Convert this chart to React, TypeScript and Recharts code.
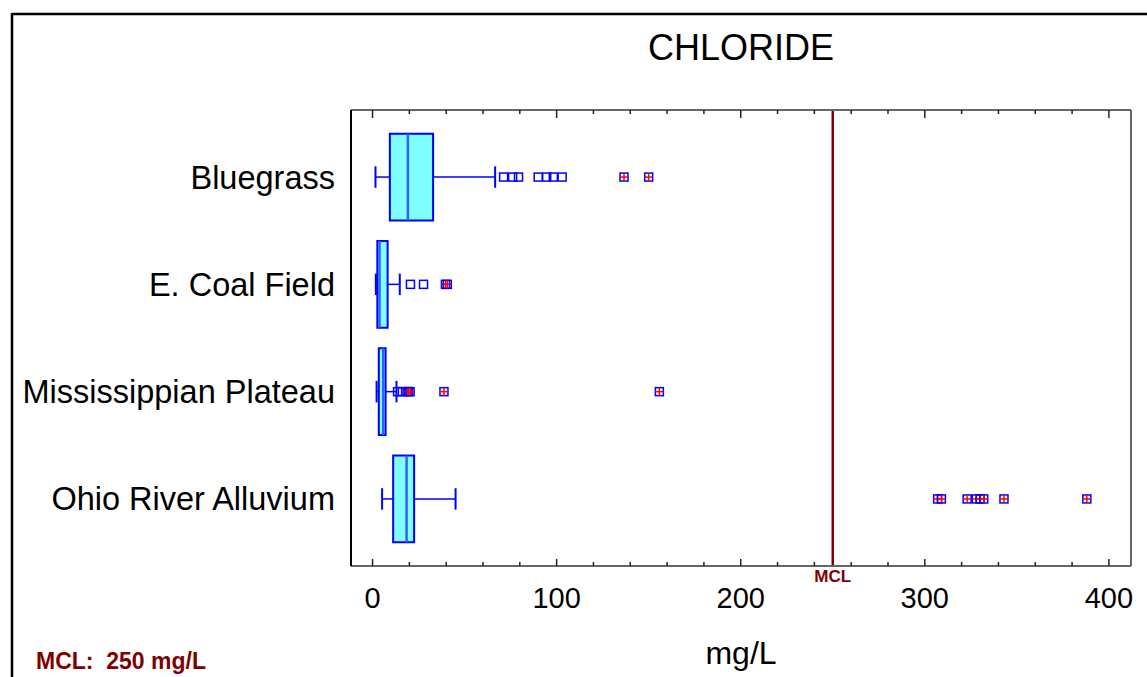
import React from 'react';
import { ComposedChart, XAxis, YAxis, Scatter, ReferenceArea, ReferenceLine } from 'recharts';

// chloride (mg/L) by physiographic region
const regions = ['Bluegrass', 'E. Coal Field', 'Mississippian Plateau', 'Ohio River Alluvium'];
const lowWhisker = [1.6, 1.8, 2.2, 5.2];
const q1 = [9.4, 2.6, 3.4, 11.2];
const median = [19.2, 3.8, 5.8, 18.5];
const q3 = [32.9, 8.2, 7.1, 22.6];
const highWhisker = [66.6, 14.8, 13.0, 45.1];

const mildOutliers = [
  [71.2, 76.1, 79.3, 90.0, 94.6, 98.2, 103.0],
  [20.6, 27.7],
  [13.6, 16.2],
  [],
];
const farOutliers = [
  [136.6, 150.0],
  [39.6, 40.6],
  [18.8, 19.6, 20.4, 38.8, 155.8],
  [307, 309, 323, 328, 330, 332, 343, 388],
];

const xTicks = [0, 20, 40, 60, 80, 100, 120, 140, 160, 180, 200, 220, 240, 260, 280, 300, 320, 340, 360, 380, 400];
const MCL = 250;

const BLUE = '#0000ff';
const MAROON = '#800000';
const BOX_HALF = 0.404;
const CAP_HALF = 0.1;

const mildData = mildOutliers.flatMap((vals, i) => vals.map((v) => ({ x: v, y: i + 1 })));
const farData = farOutliers.flatMap((vals, i) => vals.map((v) => ({ x: v, y: i + 1 })));

const Square = (props: any) => {
  const { cx, cy } = props;
  return <rect x={cx - 4} y={cy - 4} width={8} height={8} fill="none" stroke={BLUE} strokeWidth={1.5} />;
};

const CrossSquare = (props: any) => {
  const { cx, cy } = props;
  return (
    <g>
      <rect x={cx - 4} y={cy - 4} width={8} height={8} fill="none" stroke={BLUE} strokeWidth={1.5} />
      <line x1={cx - 4} x2={cx + 4} y1={cy} y2={cy} stroke="#ff0000" strokeWidth={1.5} />
      <line x1={cx} x2={cx} y1={cy - 4} y2={cy + 4} stroke="#ff0000" strokeWidth={1.5} />
    </g>
  );
};

const BottomTick = ({ x, y, payload }: any) => {
  const major = payload.value % 100 === 0;
  return (
    <g>
      <line x1={x} x2={x} y1={y} y2={y - (major ? 7 : 4)} stroke="#222" strokeWidth={1.5} />
      {major && (
        <text x={x} y={y + 42} textAnchor="middle" fontSize={29} fill="#000">
          {payload.value}
        </text>
      )}
    </g>
  );
};

const TopTick = ({ x, y, payload }: any) => {
  const major = payload.value % 100 === 0;
  return <line x1={x} x2={x} y1={y} y2={y + (major ? 8 : 4)} stroke="#222" strokeWidth={1.5} />;
};

export default function App() {
  return (
    <div style={{ position: 'absolute', left: 0, top: 0, width: 1147, height: 677, background: '#fff', fontFamily: '"Liberation Sans", Arial, sans-serif' }}>
      <ComposedChart width={1147} height={677} margin={{ top: 0, right: 0, bottom: 0, left: 0 }}>
        <XAxis
          type="number"
          dataKey="x"
          domain={[-11.7, 412]}
          allowDataOverflow
          ticks={xTicks}
          interval={0}
          height={111}
          tickSize={0}
          tickMargin={0}
          tickLine={false}
          tick={<BottomTick />}
          axisLine={{ stroke: '#666', strokeWidth: 2 }}
        />
        <XAxis
          xAxisId="top"
          orientation="top"
          type="number"
          dataKey="x"
          domain={[-11.7, 412]}
          allowDataOverflow
          ticks={xTicks}
          interval={0}
          height={110}
          tickSize={0}
          tickMargin={0}
          tickLine={false}
          tick={<TopTick />}
          axisLine={{ stroke: '#666', strokeWidth: 2 }}
        />
        <YAxis
          type="number"
          dataKey="y"
          domain={[0.375, 4.625]}
          allowDataOverflow
          reversed
          ticks={[1, 2, 3, 4]}
          interval={0}
          width={351}
          tickSize={0}
          tickMargin={16}
          tickLine={false}
          tickFormatter={(v: number) => regions[v - 1]}
          tick={{ fontSize: 32.5, fill: '#000' }}
          axisLine={{ stroke: '#000', strokeWidth: 2 }}
        />
        <YAxis
          yAxisId="right"
          orientation="right"
          type="number"
          domain={[0.375, 4.625]}
          width={16}
          tick={false}
          tickLine={false}
          axisLine={{ stroke: '#666', strokeWidth: 2 }}
        />

        {regions.map((r, i) => {
          const pos = i + 1;
          return (
            <React.Fragment key={r}>
              <ReferenceLine segment={[{ x: lowWhisker[i], y: pos }, { x: q1[i], y: pos }]} stroke={BLUE} strokeWidth={1.5} />
              <ReferenceLine segment={[{ x: q3[i], y: pos }, { x: highWhisker[i], y: pos }]} stroke={BLUE} strokeWidth={1.5} />
              <ReferenceLine segment={[{ x: lowWhisker[i], y: pos - CAP_HALF }, { x: lowWhisker[i], y: pos + CAP_HALF }]} stroke={BLUE} strokeWidth={2} />
              <ReferenceLine segment={[{ x: highWhisker[i], y: pos - CAP_HALF }, { x: highWhisker[i], y: pos + CAP_HALF }]} stroke={BLUE} strokeWidth={2} />
              <ReferenceArea x1={q1[i]} x2={q3[i]} y1={pos - BOX_HALF} y2={pos + BOX_HALF} fill="#80ffff" fillOpacity={1} stroke={BLUE} strokeWidth={2} />
              <ReferenceLine segment={[{ x: median[i], y: pos - BOX_HALF }, { x: median[i], y: pos + BOX_HALF }]} stroke="#3060ff" strokeWidth={2.5} />
            </React.Fragment>
          );
        })}

        <ReferenceLine
          x={MCL}
          stroke={MAROON}
          strokeWidth={2.5}
          label={{ value: 'MCL', position: 'bottom', offset: 4, fill: MAROON, fontSize: 17, fontWeight: 'bold' }}
        />

        <Scatter data={mildData} shape={<Square />} isAnimationActive={false} />
        <Scatter data={farData} shape={<CrossSquare />} isAnimationActive={false} />
      </ComposedChart>

      <svg width={1147} height={677} style={{ position: 'absolute', left: 0, top: 0, pointerEvents: 'none' }}>
        <line x1={12} x2={1147} y1={14} y2={14} stroke="#000" strokeWidth={2.5} />
        <line x1={12} x2={12} y1={13} y2={677} stroke="#000" strokeWidth={2.5} />
        <text x={741} y={60} textAnchor="middle" fontSize={36} fill="#000">CHLORIDE</text>
        <text x={741} y={664} textAnchor="middle" fontSize={32} fill="#000">mg/L</text>
        <text x={36} y={669} fontSize={23} fontWeight="bold" fill={MAROON} style={{ whiteSpace: 'pre' }}>MCL:  250 mg/L</text>
      </svg>
    </div>
  );
}
